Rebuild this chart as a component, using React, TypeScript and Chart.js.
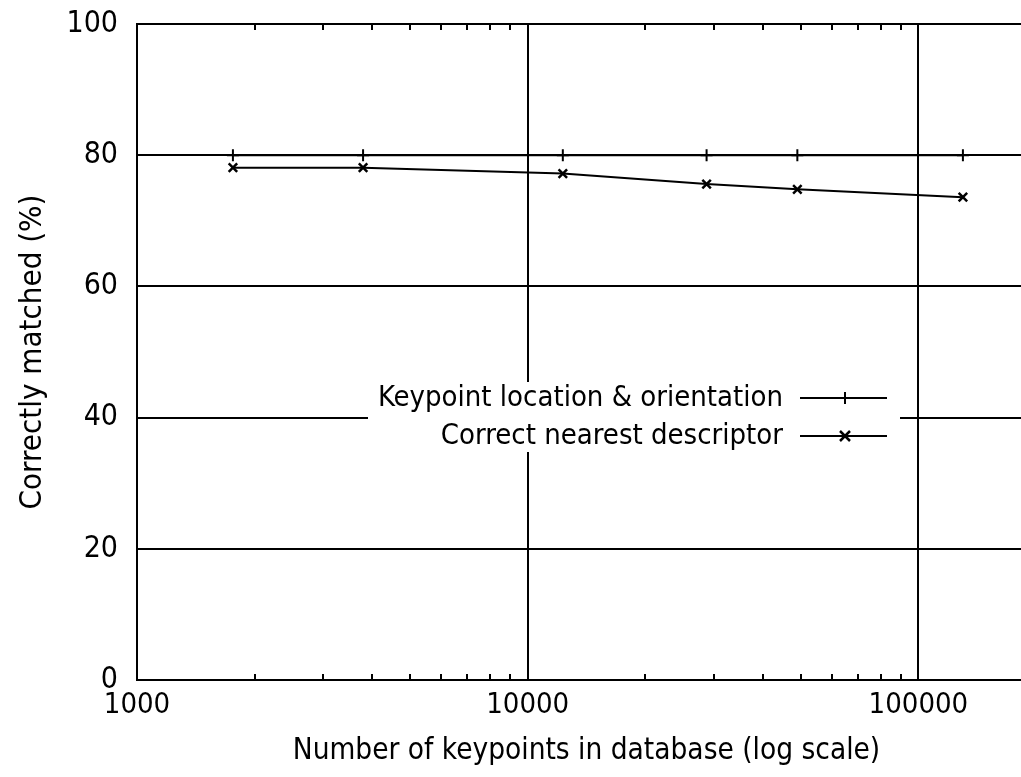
import React, { useEffect, useRef } from "react";
import { Chart, registerables } from "chart.js";

Chart.register(...registerables);

const keypointCounts = [1760, 3790, 12300, 28700, 49000, 130000];
const locationOrientation = [80, 80, 80, 80, 80, 80];
const nearestDescriptor = [78.1, 78.1, 77.2, 75.6, 74.8, 73.6];
const seriesNames = ["Keypoint location & orientation", "Correct nearest descriptor"];
const xMajorTicks = [1000, 10000, 100000];
const xMinorTicks = [2000, 3000, 4000, 5000, 6000, 7000, 8000, 9000, 20000, 30000, 40000, 50000, 60000, 70000, 80000, 90000];
const xTitle = "Number of keypoints in database (log scale)";
const yTitle = "Correctly matched (%)";

const FONT = '"DejaVu Sans Condensed", "Liberation Sans", sans-serif';
const CANVAS_W = 1100;
const CANVAS_H = 777;

function drawMarker(ctx: CanvasRenderingContext2D, kind: number, x: number, y: number) {
  ctx.save();
  ctx.strokeStyle = "#000";
  ctx.lineWidth = 2;
  ctx.beginPath();
  if (kind === 0) {
    ctx.moveTo(x, y - 6);
    ctx.lineTo(x, y + 6);
    ctx.moveTo(x - 6, y);
    ctx.lineTo(x + 6, y);
  } else {
    ctx.lineWidth = 2.5;
    ctx.moveTo(x - 5, y - 5);
    ctx.lineTo(x + 5, y + 5);
    ctx.moveTo(x - 5, y + 5);
    ctx.lineTo(x + 5, y - 5);
  }
  ctx.stroke();
  ctx.restore();
}

const decorPlugin = {
  id: "gnuplotDecor",
  beforeDatasetsDraw(chart: any) {
    const ctx: CanvasRenderingContext2D = chart.ctx;
    const xs = chart.scales.x;
    const area = chart.chartArea;
    ctx.save();
    ctx.strokeStyle = "#000";
    ctx.lineWidth = 2;
    ctx.beginPath();
    for (const v of xMinorTicks) {
      const px = Math.round(xs.getPixelForValue(v));
      ctx.moveTo(px, area.bottom);
      ctx.lineTo(px, area.bottom - 6);
      ctx.moveTo(px, area.top);
      ctx.lineTo(px, area.top + 6);
    }
    ctx.stroke();

    // legend box (white background over the grid)
    const left = 368, top = 382, right = 900, bottom = 452;
    ctx.fillStyle = "#fff";
    ctx.fillRect(left, top, right - left, bottom - top);
    ctx.fillStyle = "#000";
    ctx.font = `29px ${FONT}`;
    ctx.textAlign = "right";
    ctx.textBaseline = "middle";
    const rows = [398, 436];
    rows.forEach((ry, i) => {
      ctx.fillText(seriesNames[i], 783, ry);
      ctx.beginPath();
      ctx.moveTo(800, ry);
      ctx.lineTo(887, ry);
      ctx.stroke();
      drawMarker(ctx, i, 845, ry);
    });
    ctx.restore();
  },
};

export default function App() {
  const canvasRef = useRef<HTMLCanvasElement | null>(null);

  useEffect(() => {
    const canvas = canvasRef.current;
    if (!canvas) return;
    const chart = new Chart(canvas, {
      type: "line",
      data: {
        labels: keypointCounts,
        datasets: [
          {
            label: seriesNames[0],
            data: keypointCounts.map((x, i) => ({ x, y: locationOrientation[i] })),
            borderColor: "#000",
            backgroundColor: "#000",
            borderWidth: 2,
            pointStyle: "cross",
            pointRadius: 6,
            pointBorderWidth: 2,
            pointBorderColor: "#000",
            fill: false,
            tension: 0,
          },
          {
            label: seriesNames[1],
            data: keypointCounts.map((x, i) => ({ x, y: nearestDescriptor[i] })),
            borderColor: "#000",
            backgroundColor: "#000",
            borderWidth: 2,
            pointStyle: "crossRot",
            pointRadius: 6,
            pointBorderWidth: 2.5,
            pointBorderColor: "#000",
            fill: false,
            tension: 0,
          },
        ],
      },
      options: {
        responsive: false,
        animation: false,
        layout: { padding: { left: 0, top: 24, right: CANVAS_W - 1036, bottom: 0 } },
        plugins: {
          legend: { display: false },
          tooltip: { enabled: false },
        },
        scales: {
          x: {
            type: "logarithmic",
            min: 1000,
            max: 200000,
            afterBuildTicks: (scale: any) => {
              scale.ticks = xMajorTicks.map((v) => ({ value: v, major: true }));
            },
            afterFit: (scale: any) => {
              scale.height = CANVAS_H - 680;
              scale.paddingLeft = 0;
              scale.paddingRight = 0;
            },
            grid: { color: "#000", lineWidth: 2, drawTicks: false },
            border: { color: "#000", width: 2 },
            ticks: {
              autoSkip: false,
              maxRotation: 0,
              padding: 8,
              color: "#000",
              font: { family: FONT, size: 29 },
              callback: (v: any) => String(v),
            },
            title: {
              display: true,
              text: xTitle,
              color: "#000",
              font: { family: FONT, size: 29.5 },
              padding: { top: 0, bottom: 8 },
            },
          },
          y: {
            type: "linear",
            min: 0,
            max: 100,
            afterFit: (scale: any) => {
              scale.width = 137;
              scale.paddingTop = 0;
              scale.paddingBottom = 0;
            },
            grid: { color: "#000", lineWidth: 2, drawTicks: false },
            border: { color: "#000", width: 2 },
            ticks: {
              stepSize: 20,
              padding: 19,
              color: "#000",
              font: { family: FONT, size: 30 },
            },
            title: {
              display: true,
              text: yTitle,
              color: "#000",
              font: { family: FONT, size: 31 },
              padding: { top: 14, bottom: 0 },
            },
          },
        },
      },
      plugins: [decorPlugin],
    } as any);
    return () => chart.destroy();
  }, []);

  return (
    <div
      style={{
        position: "fixed",
        left: 0,
        top: 0,
        width: 1021,
        height: 777,
        overflow: "hidden",
        background: "#fff",
      }}
    >
      <canvas
        ref={canvasRef}
        width={CANVAS_W}
        height={CANVAS_H}
        style={{ display: "block", width: CANVAS_W, height: CANVAS_H }}
      />
    </div>
  );
}
